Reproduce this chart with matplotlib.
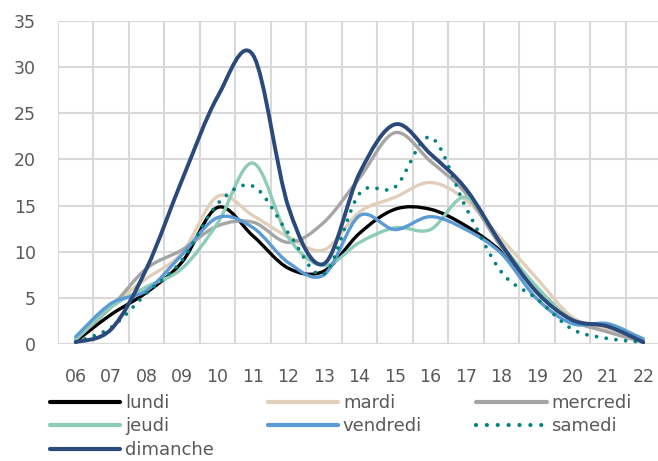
import numpy as np
import matplotlib
matplotlib.use("Agg")
import matplotlib.pyplot as plt
from matplotlib.path import Path
from matplotlib.patches import PathPatch
from matplotlib.lines import Line2D

hours = ["06", "07", "08", "09", "10", "11", "12", "13", "14",
         "15", "16", "17", "18", "19", "20", "21", "22"]

lundi    = [0.3, 3.2, 5.6, 8.9, 14.8, 11.7, 8.2, 7.9, 12.0, 14.6, 14.6, 12.8, 10.0, 6.0, 2.6, 1.8, 0.2]
mardi    = [0.5, 4.2, 7.1, 9.9, 16.0, 13.9, 11.6, 10.2, 14.3, 15.9, 17.5, 15.6, 11.4, 7.1, 2.9, 1.6, 0.3]
mercredi = [0.5, 4.0, 8.2, 10.2, 12.8, 13.2, 11.0, 13.2, 18.0, 22.9, 19.8, 16.3, 10.5, 6.0, 2.6, 1.3, 0.2]
jeudi    = [0.5, 4.0, 6.2, 8.2, 13.1, 19.6, 11.5, 8.5, 11.0, 12.6, 12.4, 15.9, 10.8, 6.2, 2.6, 2.0, 0.6]
vendredi = [0.8, 4.4, 5.8, 9.7, 13.7, 12.6, 8.8, 7.5, 13.9, 12.4, 13.8, 12.4, 9.8, 4.9, 2.2, 2.2, 0.5]
samedi   = [0.2, 1.8, 5.5, 9.1, 15.2, 17.1, 12.0, 7.6, 16.3, 17.0, 22.4, 14.8, 7.8, 4.9, 1.6, 0.6, 0.2]
dimanche = [0.2, 1.6, 8.2, 17.8, 26.8, 31.3, 14.8, 8.7, 18.5, 23.8, 20.6, 16.8, 10.8, 5.6, 2.6, 1.9, 0.2]

dots = (0, (0.01, 2.6))
series = [
    ("lundi", lundi, "#000000", "-", 2.4),
    ("mardi", mardi, "#e2cfba", "-", 2.4),
    ("mercredi", mercredi, "#a5a5a5", "-", 2.4),
    ("jeudi", jeudi, "#8dcdb8", "-", 2.4),
    ("vendredi", vendredi, "#5b9bd5", "-", 2.4),
    ("samedi", samedi, "#00827f", dots, 2.7),
    ("dimanche", dimanche, "#2a4a7c", "-", 2.8),
]

text_col = "#595959"
grid_col = "#d9d9d9"


def smooth_path(x, y):
    # Excel-like smoothed line: cubic bezier through each point
    pts = np.column_stack([x, y])
    n = len(pts)
    verts = [pts[0]]
    codes = [Path.MOVETO]
    for i in range(n - 1):
        p0 = pts[max(i - 1, 0)]
        p1 = pts[i]
        p2 = pts[i + 1]
        p3 = pts[min(i + 2, n - 1)]
        c1 = p1 + (p2 - p0) / 6.0
        c2 = p2 - (p3 - p1) / 6.0
        verts += [c1, c2, p2]
        codes += [Path.CURVE4] * 3
    return Path(verts, codes)


fig = plt.figure(figsize=(6.58, 4.61), dpi=100)
ax = fig.add_axes([58 / 658, 1 - 344 / 461, 603 / 658, 323 / 461])

x = np.arange(len(hours))
handles = {}
for name, vals, col, ls, lw in series:
    p = PathPatch(smooth_path(x, np.array(vals, dtype=float)), facecolor="none",
                  edgecolor=col, lw=lw, linestyle=ls, capstyle="round",
                  joinstyle="round", zorder=3)
    ax.add_patch(p)
    handles[name] = Line2D([], [], color=col, lw=3, linestyle=ls,
                           dash_capstyle="round", solid_capstyle="round")

ax.set_xlim(-0.5, len(hours) - 0.5)
ax.set_ylim(0, 35)
ax.set_xticks(x)
ax.set_xticklabels(hours)
ax.set_yticks(np.arange(0, 36, 5))
ax.set_xticks(np.arange(-0.5, len(hours), 1), minor=True)
ax.grid(True, which="minor", axis="x", color=grid_col, lw=1.5)
ax.grid(True, which="major", axis="y", color=grid_col, lw=1.5)
ax.set_axisbelow(True)
for s in ax.spines.values():
    s.set_visible(False)
ax.tick_params(which="both", length=0)
ax.tick_params(axis="x", pad=17, labelsize=12.5, labelcolor=text_col)
ax.tick_params(axis="y", pad=16, labelsize=12.5, labelcolor=text_col)
ax.axhline(0, color=grid_col, lw=1.5, zorder=1)

order = ["lundi", "jeudi", "dimanche", "mardi", "vendredi", "mercredi", "samedi"]
leg = fig.legend([handles[k] for k in order], order, ncol=3,
                 loc="upper left", bbox_to_anchor=(50 / 658, 1 - 394 / 461),
                 frameon=False, fontsize=13, handlelength=3.9,
                 handletextpad=0.25, columnspacing=3.0, labelspacing=0.3,
                 borderpad=0, borderaxespad=0)
for t in leg.get_texts():
    t.set_color(text_col)

fig.savefig("out.png", dpi=100)
